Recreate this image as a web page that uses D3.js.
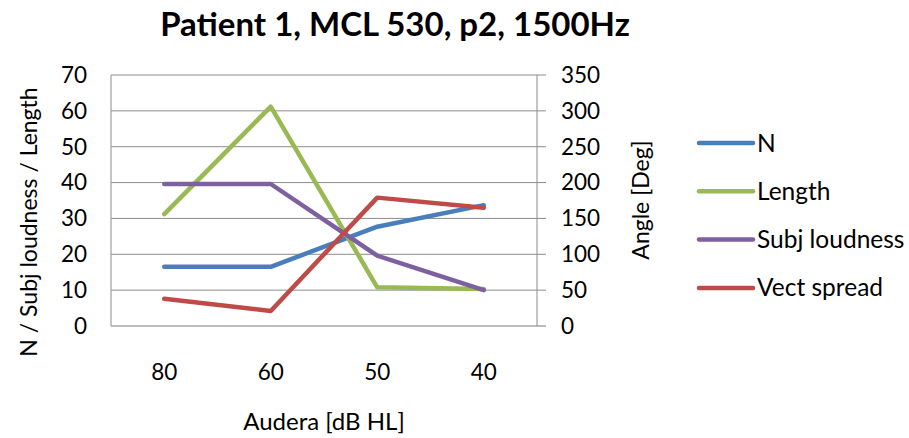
<!DOCTYPE html>
<html>
<head>
<meta charset="utf-8">
<script src="https://cdn.jsdelivr.net/npm/d3@7"></script>
<style>
  html, body { margin: 0; padding: 0; background: #fff; }
  svg text { font-family: Lato, "Open Sans", sans-serif; fill: #000; }
</style>
</head>
<body>
<svg id="chart" width="909" height="438"></svg>
<script>
// ---- data ----
const categories = ["80", "60", "50", "40"];
const seriesNames = ["N", "Length", "Subj loudness", "Vect spread"];
const nValues = [16.5, 16.5, 27.7, 33.7];
const lengthValues = [31.2, 61.2, 10.8, 10.3];
const subjValues = [39.6, 39.6, 19.6, 10.0];
const vectValues = [38, 21, 179, 165];   // secondary axis (deg)
const leftTicks = [0, 10, 20, 30, 40, 50, 60, 70];
const rightTicks = [0, 50, 100, 150, 200, 250, 300, 350];
const titleText = "Patient 1, MCL 530, p2, 1500Hz";
const xTitle = "Audera [dB HL]";
const yLeftTitle = "N / Subj loudness / Length";
const yRightTitle = "Angle [Deg]";

// ---- layout ----
const svg = d3.select("#chart");
const L = 111, R = 537, T = 75, B = 326;

const x = d3.scaleBand().domain(categories).range([L, R]).padding(0);
const yL = d3.scaleLinear().domain([0, 70]).range([B, T]);
const yR = d3.scaleLinear().domain([0, 350]).range([B, T]);
const cx = d => x(d) + x.bandwidth() / 2;

const colors = {
  "N": "#4a7ebb",
  "Length": "#98b954",
  "Subj loudness": "#7d60a0",
  "Vect spread": "#be4b48"
};

// gridlines (extend past right axis as tick marks)
svg.append("g").selectAll("line").data(leftTicks.filter(t => t > 0)).join("line")
  .attr("x1", L).attr("x2", R + 9)
  .attr("y1", d => yL(d)).attr("y2", d => yL(d))
  .attr("stroke", "#8c8c8c").attr("stroke-width", 1);

// plot area border
svg.append("line").attr("x1", L).attr("x2", L).attr("y1", T).attr("y2", B)
  .attr("stroke", "#a6a6a6").attr("stroke-width", 1.3);
svg.append("line").attr("x1", L).attr("x2", R + 9).attr("y1", B).attr("y2", B)
  .attr("stroke", "#a6a6a6").attr("stroke-width", 1.3);
svg.append("line").attr("x1", R).attr("x2", R).attr("y1", T).attr("y2", B)
  .attr("stroke", "#8c8c8c").attr("stroke-width", 1);

// left tick labels
svg.append("g").selectAll("text").data(leftTicks).join("text")
  .attr("x", 87).attr("y", d => yL(d)).attr("dy", "0.35em")
  .attr("text-anchor", "end").attr("font-size", 22.5).text(d => d);

// right tick labels
svg.append("g").selectAll("text").data(rightTicks).join("text")
  .attr("x", 561).attr("y", d => yR(d)).attr("dy", "0.35em")
  .attr("text-anchor", "start").attr("font-size", 22.5).text(d => d);

// x tick labels
svg.append("g").selectAll("text").data(categories).join("text")
  .attr("x", d => cx(d)).attr("y", 372).attr("dy", "0.35em")
  .attr("text-anchor", "middle").attr("font-size", 22.5).text(d => d);

// titles
svg.append("text").attr("x", 395).attr("y", 36).attr("text-anchor", "middle")
  .attr("font-size", 33).attr("font-weight", "bold").text(titleText);
svg.append("text").attr("x", (L + R) / 2).attr("y", 422).attr("dy", "0.35em")
  .attr("text-anchor", "middle").attr("font-size", 24).text(xTitle);
svg.append("text").attr("transform", "translate(37,222) rotate(-90)")
  .attr("text-anchor", "middle").attr("font-size", 23).text(yLeftTitle);
svg.append("text").attr("transform", "translate(649,200) rotate(-90)")
  .attr("text-anchor", "middle").attr("font-size", 23).text(yRightTitle);

// series lines
const series = [
  { name: "N", values: nValues, y: yL },
  { name: "Length", values: lengthValues, y: yL },
  { name: "Subj loudness", values: subjValues, y: yL },
  { name: "Vect spread", values: vectValues, y: yR }
];
series.forEach(s => {
  const line = d3.line().x((d, i) => cx(categories[i])).y(d => s.y(d));
  svg.append("path").datum(s.values).attr("d", line)
    .attr("fill", "none").attr("stroke", colors[s.name])
    .attr("stroke-width", 4.5).attr("stroke-linejoin", "round").attr("stroke-linecap", "round");
});

// legend
const leg = svg.append("g");
seriesNames.forEach((n, i) => {
  const yy = 143 + i * 48.3;
  leg.append("line").attr("x1", 699).attr("x2", 753).attr("y1", yy).attr("y2", yy)
    .attr("stroke", colors[n]).attr("stroke-width", 4.5).attr("stroke-linecap", "round");
  leg.append("text").attr("x", 757).attr("y", yy).attr("dy", "0.35em")
    .attr("font-size", 24.5).text(n);
});
</script>
</body>
</html>
